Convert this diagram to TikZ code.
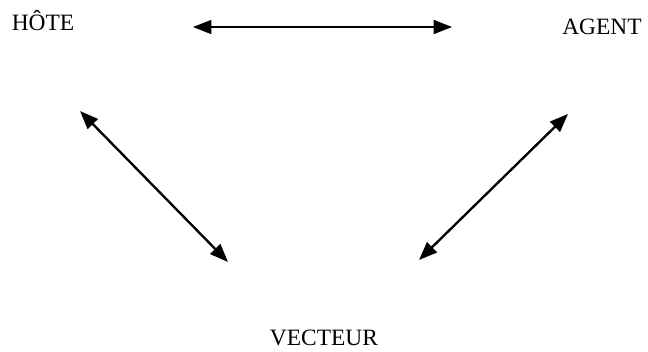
\documentclass[tikz,border=0pt]{standalone}
\usepackage{fontspec}
\setmainfont{Liberation Serif}
\usetikzlibrary{positioning, arrows.meta}

\begin{document}
\begin{tikzpicture}[
    x=0.03cm, y=-0.03cm,
    label/.style={inner sep=0pt, anchor=base, font=\fontsize{20}{23}\selectfont},
    arrow/.style={{Triangle[length=5.5mm, width=4.2mm]}-{Triangle[length=5.5mm, width=4.2mm]}, line width=2pt, draw=black}
]
    \useasboundingbox (0,0) rectangle (648,351);

    % Labels
    \node[label] (hote) at (43,30) {HÔTE};
    \node[label] (agent) at (602,34) {AGENT};
    \node[label] (vecteur) at (324,345) {VECTEUR};

    % Arrow ends
    \coordinate (hA) at (193,27);
    \coordinate (aH) at (452,27);
    \coordinate (hV) at (80,111);
    \coordinate (vH) at (228,262);
    \coordinate (aV) at (568,114);
    \coordinate (vA) at (419,260);

    % Connections
    \draw[arrow, line width=1.3pt] (hA) -- (aH);
    \draw[arrow] (hV) -- (vH);
    \draw[arrow] (aV) -- (vA);

\end{tikzpicture}
\end{document}
